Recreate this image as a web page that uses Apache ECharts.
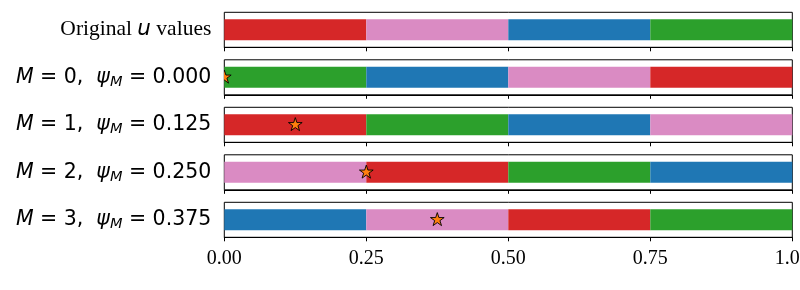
<!DOCTYPE html>
<html>
<head>
<meta charset="utf-8">
<script src="https://cdn.jsdelivr.net/npm/echarts@6/dist/echarts.min.js"></script>
<style>
  html, body { margin: 0; padding: 0; background: #fff; }
  #chart { width: 800px; height: 290px; }
</style>
</head>
<body>
<div id="chart"></div>
<script>
// ---- data ----
const mValues = [null, 0, 1, 2, 3];
const psiValues = [null, 0.000, 0.125, 0.250, 0.375];
const segmentWidths = [0.25, 0.25, 0.25, 0.25];
const rowColorOrder = [
  ['red', 'pink', 'blue', 'green'],
  ['green', 'blue', 'pink', 'red'],
  ['red', 'green', 'blue', 'pink'],
  ['pink', 'red', 'green', 'blue'],
  ['blue', 'pink', 'red', 'green']
];
const xTickLabels = ['0.00', '0.25', '0.50', '0.75', '1.00'];

// ---- styles ----
const palette = { red: '#d62728', pink: '#da8bc3', blue: '#1f77b4', green: '#2ca02c' };
const FS_MATH = 20.5, FS_SERIF = 21.5, FS_TICK = 20;
const gridLeft = 224.3, gridWidth = 568, gridTop0 = 12.3, gridPitch = 47.5, gridHeight = 35;

// star path (matplotlib '*' marker style)
function starPath() {
  let d = '';
  for (let k = 0; k < 10; k++) {
    const a = Math.PI / 2 + k * Math.PI / 5;
    const r = k % 2 === 0 ? 1 : 0.381966;
    const x = r * Math.cos(a), y = -r * Math.sin(a);
    d += (k === 0 ? 'M' : 'L') + x.toFixed(4) + ' ' + y.toFixed(4) + ' ';
  }
  return d + 'Z';
}
const STAR = starPath();

function rowLabel(i) {
  if (mValues[i] === null) {
    return '{serif|Original }{ui|u}{serif| values}';
  }
  return '{mi|M}{n| = ' + mValues[i] + ',  }{mi|ψ}{sub|M}{n| = ' + psiValues[i].toFixed(3) + '}';
}

const grids = [], xAxes = [], yAxes = [], series = [];
const nRows = rowColorOrder.length;
for (let i = 0; i < nRows; i++) {
  grids.push({
    left: gridLeft, width: gridWidth, top: gridTop0 + i * gridPitch, height: gridHeight,
    outerBoundsMode: 'none', containLabel: false,
    show: true, borderColor: '#000', borderWidth: 1, backgroundColor: 'transparent'
  });
  const last = i === nRows - 1;
  xAxes.push({
    gridIndex: i, type: 'value', min: 0, max: 1, interval: 0.25,
    axisLine: { show: true, lineStyle: { color: '#000', width: 1 } },
    axisTick: { show: true, inside: false, length: 4, lineStyle: { color: '#000', width: 1 } },
    splitLine: { show: false },
    axisLabel: {
      show: last, margin: 11, color: '#000', fontFamily: 'Liberation Serif', fontSize: FS_TICK,
      hideOverlap: false,
      formatter: function (v) { return xTickLabels[Math.round(v / 0.25)]; }
    }
  });
  yAxes.push({
    gridIndex: i, type: 'category', data: [rowLabel(i)],
    axisLine: { show: false }, axisTick: { show: false }, splitLine: { show: false },
    axisLabel: {
      show: true, margin: 13, color: '#000',
      rich: {
        serif: { fontFamily: 'Liberation Serif', fontSize: FS_SERIF, color: '#000' },
        ui: { fontFamily: 'DejaVu Sans', fontStyle: 'italic', fontSize: FS_SERIF, color: '#000' },
        mi: { fontFamily: 'DejaVu Sans', fontStyle: 'italic', fontSize: FS_MATH, color: '#000' },
        n: { fontFamily: 'DejaVu Sans', fontSize: FS_MATH, color: '#000' },
        sub: { fontFamily: 'DejaVu Sans', fontStyle: 'italic', fontSize: 14.5, color: '#000', padding: [9, 0, 0, 0] }
      }
    }
  });
  rowColorOrder[i].forEach(function (c, j) {
    series.push({
      type: 'bar', xAxisIndex: i, yAxisIndex: i, stack: 'row' + i,
      data: [segmentWidths[j]], barWidth: '60%', silent: true,
      itemStyle: { color: palette[c] }
    });
  });
  if (psiValues[i] !== null) {
    series.push({
      type: 'custom', xAxisIndex: i, yAxisIndex: i, clip: true, silent: true, z: 10,
      data: [[psiValues[i], 0]],
      renderItem: function (params, api) {
        const p = api.coord([api.value(0), api.value(1)]);
        const r = 7.2;
        return {
          type: 'path',
          shape: { pathData: STAR, x: p[0] - 0.951 * r, y: p[1] - r, width: 1.902 * r, height: 1.809 * r },
          style: { fill: '#ff7f0e', stroke: '#000', lineWidth: 0.9 }
        };
      }
    });
  }
}

const chart = echarts.init(document.getElementById('chart'), null, { renderer: 'canvas' });
chart.setOption({
  animation: false,
  backgroundColor: '#fff',
  grid: grids, xAxis: xAxes, yAxis: yAxes, series: series
});
</script>
</body>
</html>
